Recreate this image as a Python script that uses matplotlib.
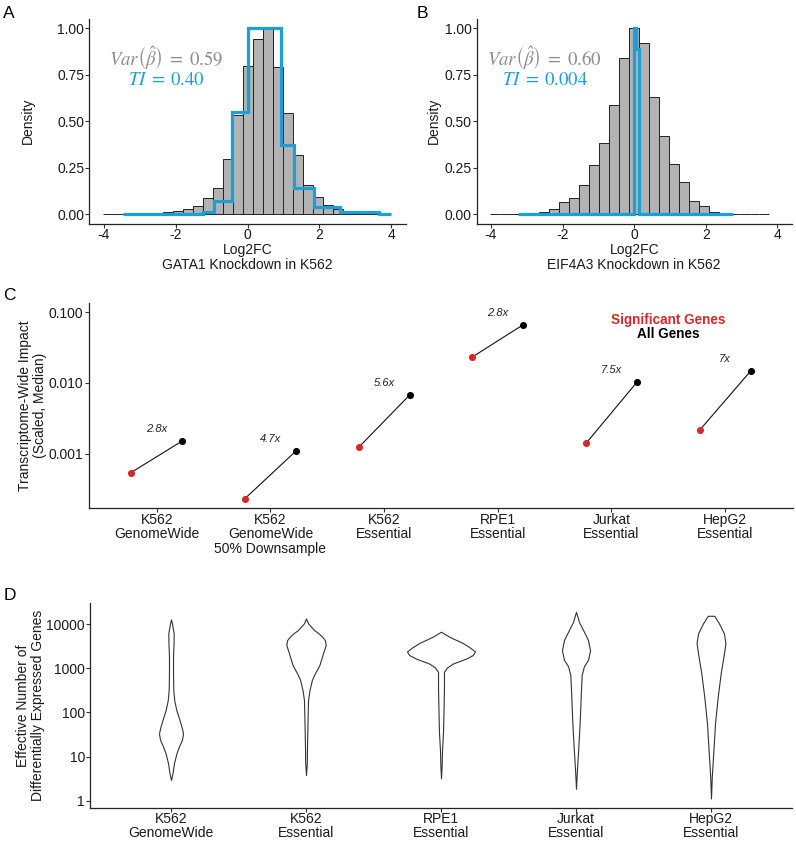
import numpy as np
import matplotlib.pyplot as plt
from matplotlib.ticker import NullLocator

plt.rcParams['font.family'] = ['Liberation Sans', 'DejaVu Sans']
plt.rcParams['mathtext.fontset'] = 'stix'

# ---- Panel A / B: Log2FC histograms (density scaled to max 1) ----
gata1_range = (-4.02, 3.78)
gata1_density = [0.001, 0.002, 0.002, 0.003, 0.004, 0.007, 0.013, 0.018, 0.026, 0.046,
                 0.085, 0.14, 0.30, 0.535, 0.80, 0.94, 1.00, 0.79, 0.545, 0.317,
                 0.16, 0.092, 0.048, 0.03, 0.016, 0.01, 0.006, 0.002]
gata1_ti_edges = [-3.47, -2.6, -1.25, -0.93, -0.43, 0.02, 0.93, 1.30, 1.84, 2.57, 3.65, 4.0]
gata1_ti_density = [0.0, 0.004, 0.014, 0.072, 0.548, 1.0, 0.375, 0.143, 0.04, 0.012, 0.0]

eif4a3_range = (-4.04, 3.76)
eif4a3_density = [0.001, 0.001, 0.002, 0.003, 0.005, 0.013, 0.026, 0.064, 0.088, 0.156,
                  0.265, 0.385, 0.588, 0.839, 1.00, 0.923, 0.629, 0.421, 0.268, 0.172,
                  0.072, 0.042, 0.014, 0.004, 0.002, 0.001, 0.001, 0.001]
eif4a3_ti_edges = [-3.26, 0.0, 0.06, 0.125, 2.76]
eif4a3_ti_density = [0.0, 1.0, 0.89, 0.0]

# ---- Panel C: transcriptome-wide impact ----
c_labels = ["K562\nGenomeWide", "K562\nGenomeWide\n50% Downsample", "K562\nEssential",
            "RPE1\nEssential", "Jurkat\nEssential", "HepG2\nEssential"]
sig_impact = [5.4e-4, 2.3e-4, 1.22e-3, 0.0232, 1.39e-3, 2.14e-3]
all_impact = [1.51e-3, 1.09e-3, 6.75e-3, 0.0668, 0.0103, 0.0148]
fold_labels = ["2.8x", "4.7x", "5.6x", "2.8x", "7.5x", "7x"]

# ---- Panel D: violin outlines (log10 value, half width in category units) ----
d_labels = ["K562\nGenomeWide", "K562\nEssential", "RPE1\nEssential",
            "Jurkat\nEssential", "HepG2\nEssential"]
violin_log = [
    [0.47, 0.62, 0.85, 1.08, 1.23, 1.38, 1.52, 1.64, 1.83, 2.06, 2.28, 2.51, 2.89, 3.27, 3.57, 3.79, 4.02, 4.11],
    [0.58, 0.85, 1.15, 1.76, 2.28, 2.51, 2.74, 2.87, 2.97, 3.08, 3.19, 3.34, 3.53, 3.64, 3.72, 3.80, 3.87, 4.02, 4.13],
    [0.51, 0.81, 1.11, 1.56, 2.09, 2.55, 2.92, 3.02, 3.11, 3.22, 3.30, 3.38, 3.47, 3.57, 3.72, 3.83],
    [0.27, 0.70, 1.15, 1.76, 2.51, 2.85, 3.05, 3.19, 3.41, 3.64, 3.76, 3.87, 4.05, 4.17, 4.28],
    [0.05, 0.55, 1.0, 1.76, 2.36, 2.89, 3.34, 3.57, 3.79, 4.02, 4.19],
]
violin_hw = [
    [0, .011, .022, .041, .059, .081, .089, .081, .063, .039, .024, .017, .015, .015, .019, .020, .007, 0],
    [0, .006, .007, .011, .015, .026, .044, .063, .081, .100, .111, .126, .146, .140, .119, .090, .059, .015, 0],
    [0, .005, .007, .015, .019, .022, .022, .045, .089, .185, .235, .252, .215, .163, .059, 0],
    [0, .007, .016, .027, .037, .042, .059, .089, .104, .089, .070, .052, .022, .011, 0],
    [0, .006, .015, .030, .050, .072, .096, .107, .096, .059, .024],
]

GREY_FILL = '#B3B3B3'
BLUE = '#1A9FD9'
RED = '#D7282A'
TXT = '#1a1a1a'

W, H = 796, 841
fig = plt.figure(figsize=(W / 100, H / 100), dpi=100)


def px_axes(left, top, right, bottom):
    return fig.add_axes([left / W, 1 - bottom / H, (right - left) / W, (bottom - top) / H])


def style(ax):
    for s in ['top', 'right']:
        ax.spines[s].set_visible(False)
    for s in ['left', 'bottom']:
        ax.spines[s].set_linewidth(0.9)
        ax.spines[s].set_color('#222222')
    ax.tick_params(length=2.75, width=0.8, color='#333333', labelsize=10,
                   labelcolor=TXT)
    ax.tick_params(axis='x', pad=0.3)
    ax.tick_params(axis='y', pad=0.8)


def histogram(ax, rng, dens, ti_edges, ti_dens, sub, var_txt, ti_txt, ypad, tx):
    edges = np.linspace(rng[0], rng[1], len(dens) + 1)
    ax.bar(edges[:-1], dens, width=np.diff(edges), align='edge', color=GREY_FILL,
           edgecolor='#222222', linewidth=0.7, zorder=2)
    ax.stairs(ti_dens, ti_edges, baseline=None, color=BLUE, linewidth=2.3, zorder=3)
    ax.set_xlim(-4.4, 4.4)
    ax.set_ylim(-0.05, 1.05)
    ax.set_xticks([-4, -2, 0, 2, 4])
    ax.set_xticklabels(['-4', '-2', '0', '2', '4'])
    ax.set_yticks([0, 0.25, 0.5, 0.75, 1.0])
    ax.set_yticklabels(['0.00', '0.25', '0.50', '0.75', '1.00'])
    ax.set_ylabel('Density', fontsize=10, color=TXT, labelpad=ypad)
    ax.set_xlabel('Log2FC\n' + sub, fontsize=10, color=TXT, labelpad=1, linespacing=1.05)
    ax.text(tx, 0.84, var_txt, color='#8C8C8C', fontsize=13.5, ha='center', va='center')
    ax.text(tx, 0.722, ti_txt, color=BLUE, fontsize=13.5, ha='center', va='center')
    style(ax)


axA = px_axes(89.2, 19, 405.8, 223.6)
histogram(axA, gata1_range, gata1_density, gata1_ti_edges, gata1_ti_density,
          'GATA1 Knockdown in K562',
          r'$Var\left(\hat{\beta}\right)\;=\;0.59$', r'$TI\;=\;0.40$', 16, -2.25)

axB = px_axes(476.7, 19, 791.7, 223.6)
histogram(axB, eif4a3_range, eif4a3_density, eif4a3_ti_edges, eif4a3_ti_density,
          'EIF4A3 Knockdown in K562',
          r'$Var\left(\hat{\beta}\right)\;=\;0.60$', r'$TI\;=\;0.004$', 2.5, -2.5)

# ---- Panel C ----
axC = px_axes(88.5, 303.3, 793.4, 508.3)
xc = np.arange(1, len(c_labels) + 1)
dodge = 0.225
for x, s, a, lab in zip(xc, sig_impact, all_impact, fold_labels):
    axC.plot([x - dodge, x + dodge], [s, a], color='#111111', lw=0.8, zorder=2)
    axC.text(x, a * 1.48, lab, fontsize=8, style='italic', color='#222222',
             ha='center', va='center')
axC.scatter(xc - dodge, sig_impact, s=26, color=RED, zorder=3, linewidths=0)
axC.scatter(xc + dodge, all_impact, s=26, color='black', zorder=3, linewidths=0)
axC.set_yscale('log')
axC.set_ylim(10 ** -3.774, 10 ** -0.874)
axC.set_xlim(0.4, 6.6)
axC.set_yticks([0.001, 0.01, 0.1])
axC.set_yticklabels(['0.001', '0.010', '0.100'])
axC.yaxis.set_minor_locator(NullLocator())
axC.set_xticks(xc)
axC.set_xticklabels(c_labels, linespacing=1.08)
axC.set_ylabel('Transcriptome-Wide Impact\n(Scaled, Median)', fontsize=10, color=TXT,
               labelpad=1.5, linespacing=1.08)
axC.text(0.822, 0.918, 'Significant Genes', transform=axC.transAxes, color=RED,
         fontsize=9.75, fontweight='bold', ha='center', va='center')
axC.text(0.822, 0.849, 'All Genes', transform=axC.transAxes, color='black',
         fontsize=9.75, fontweight='bold', ha='center', va='center')
style(axC)

# ---- Panel D ----
axD = px_axes(90, 603, 792, 808)
for i, (lg, hw) in enumerate(zip(violin_log, violin_hw)):
    y = 10 ** np.array(lg)
    hw = np.array(hw)
    axD.fill_betweenx(y, i + 1 - hw, i + 1 + hw, facecolor='white',
                      edgecolor='#333333', linewidth=0.8)
axD.set_yscale('log')
axD.set_ylim(10 ** -0.166, 10 ** 4.48)
axD.set_xlim(0.4, 5.6)
axD.set_yticks([1, 10, 100, 1000, 10000])
axD.set_yticklabels(['1', '10', '100', '1000', '10000'])
axD.yaxis.set_minor_locator(NullLocator())
axD.set_xticks(np.arange(1, len(d_labels) + 1))
axD.set_xticklabels(d_labels, linespacing=0.98)
axD.set_ylabel('Effective Number of\nDifferentially Expressed Genes', fontsize=10,
               color=TXT, labelpad=1, linespacing=1.08)
style(axD)

# panel letters
for letter, x, y in [('A', 3.3, 18.3), ('B', 416.7, 18.3), ('C', 3.3, 300), ('D', 3.3, 600)]:
    fig.text(x / W, 1 - y / H, letter, fontsize=12.5, color='black', ha='left', va='baseline')

fig.savefig('out.png', dpi=100)
